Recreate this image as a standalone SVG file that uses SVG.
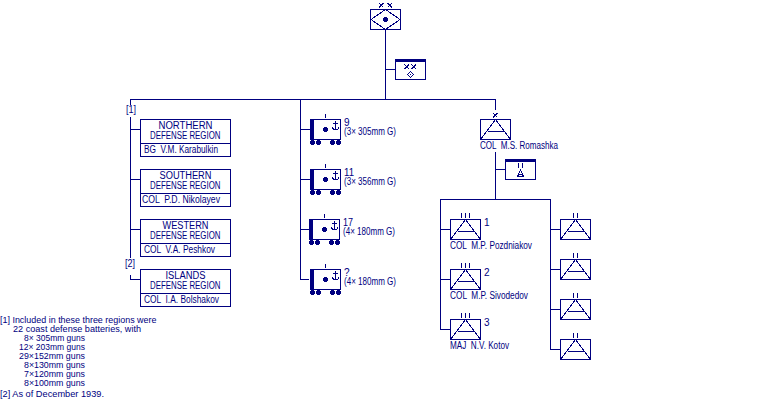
<svg xmlns="http://www.w3.org/2000/svg" xmlns:xlink="http://www.w3.org/1999/xlink" width="770" height="400" viewBox="0 0 770 400">
  <style>
    svg { background: #ffffff; }
    .ln { fill: none; stroke: #000080; stroke-width: 1; shape-rendering: crispEdges; }
    .box { fill: #ffffff; stroke: #000080; stroke-width: 1; shape-rendering: crispEdges; }
    .solid { fill: #000080; stroke: none; shape-rendering: crispEdges; }
    text { font-family: "Liberation Sans", Arial, sans-serif; font-size: 10px; fill: #000080; white-space: pre; }
    #footnotes text { font-size: 9.5px; }
  </style>
  <defs>
    <!-- unit frame: triangle with a crossbar -->
    <g id="artyFrame">
      <rect class="box" x="0.5" y="0.5" width="30" height="20"/>
      <path class="ln" d="M0.5 20.5L15.5 0.5L30.5 20.5M7.5 12.5H23.5"/>
    </g>
    <!-- coastal battery on wheels, with anchor -->
    <g id="battery">
      <rect class="box" x="0.5" y="0.5" width="30" height="20"/>
      <rect class="solid" x="0" y="0" width="4" height="21"/>
      <path class="ln" d="M15.5 -5V-1"/>
      <circle class="solid" cx="15.5" cy="10.5" r="2.5"/>
      <path class="ln" d="M25.5 2V10.5M23 4.5H28M22 7.5C22 9.5 24 10.5 25.5 10.5C27 10.5 29 9.5 29 7.5"/>
      <circle class="solid" cx="2.5" cy="23.5" r="2.5"/>
      <circle class="solid" cx="8.5" cy="23.5" r="2.5"/>
      <circle class="solid" cx="22.5" cy="23.5" r="2.5"/>
      <circle class="solid" cx="28.5" cy="23.5" r="2.5"/>
    </g>
    <!-- defense region card: name area plus commander strip -->
    <g id="regionCard">
      <rect class="box" x="0.5" y="0.5" width="90" height="37"/>
      <path class="ln" d="M0.5 24.5H90.5"/>
    </g>
    <!-- headquarters flag with a dark top band -->
    <g id="hqFlag">
      <rect class="box" x="0.5" y="0.5" width="30" height="20"/>
      <rect class="solid" x="0" y="0" width="31" height="3"/>
    </g>
    <g id="ticks3"><path class="ln" d="M11.5 -6V-1M15.5 -6V-1M19.5 -6V-1"/></g>
    <g id="ticks2"><path class="ln" d="M13.5 -6V-1M17.5 -6V-1"/></g>
  </defs>

  <g id="connectors">
    <path class="ln" d="M385.5 29V99M385.5 69.5H395"/>
    <path class="ln" d="M130.5 99.5H495.5V110"/>
    <path class="ln" d="M130.5 99V105M130.5 117V258M130.5 275V279.5H140M130.5 129.5H140M130.5 179.5H140M130.5 229.5H140"/>
    <path class="ln" d="M300.5 99V279.5H309M300.5 129.5H310M300.5 179.5H310M300.5 229.5H309"/>
    <path class="ln" d="M495.5 152V199M495.5 169.5H505"/>
    <path class="ln" d="M440.5 199.5H550.5V349.5H560M440.5 199V329.5H450"/>
    <path class="ln" d="M440.5 229.5H450M440.5 279.5H450M550.5 229.5H560M550.5 269.5H560M550.5 309.5H560"/>
  </g>

  <g id="top-division">
    <rect class="box" x="370.5" y="9.5" width="30" height="20"/>
    <path class="ln" d="M371 19.5L385.5 9.5L400 19.5L385.5 29.5Z"/>
    <circle class="solid" cx="385.5" cy="19.5" r="2.5"/>
    <path class="ln" d="M379 3L383.5 7.5M383.5 3L379 7.5M387.5 3L392 7.5M392 3L387.5 7.5"/>
  </g>
  <g id="division-hq" transform="translate(395 59)">
    <use xlink:href="#hqFlag" href="#hqFlag"/>
    <path class="ln" d="M9.5 5.5L14 10M14 5.5L9.5 10M16.5 5.5L21 10M21 5.5L16.5 10"/>
    <path class="ln" d="M15.5 12.5L18.5 15.5L15.5 18.5L12.5 15.5Z"/>
    <rect class="solid" x="15" y="15" width="1" height="1"/>
  </g>

  <text x="126" y="113" textLength="10" lengthAdjust="spacingAndGlyphs">[1]</text>
  <text x="125" y="267" textLength="10" lengthAdjust="spacingAndGlyphs">[2]</text>

  <g id="northern-region" transform="translate(140 119)">
    <use xlink:href="#regionCard" href="#regionCard"/>
    <text x="18.5" y="10" textLength="54" lengthAdjust="spacingAndGlyphs">NORTHERN</text>
    <text x="10" y="20" textLength="70.5" lengthAdjust="spacingAndGlyphs">DEFENSE REGION</text>
    <text x="4" y="34" textLength="74" lengthAdjust="spacingAndGlyphs">BG  V.M. Karabulkin</text>
  </g>
  <g id="southern-region" transform="translate(140 169)">
    <use xlink:href="#regionCard" href="#regionCard"/>
    <text x="19.5" y="10" textLength="52" lengthAdjust="spacingAndGlyphs">SOUTHERN</text>
    <text x="10" y="20" textLength="70.5" lengthAdjust="spacingAndGlyphs">DEFENSE REGION</text>
    <text x="2" y="34" textLength="78" lengthAdjust="spacingAndGlyphs">COL  P.D. Nikolayev</text>
  </g>
  <g id="western-region" transform="translate(140 219)">
    <use xlink:href="#regionCard" href="#regionCard"/>
    <text x="22.5" y="10" textLength="46" lengthAdjust="spacingAndGlyphs">WESTERN</text>
    <text x="10" y="20" textLength="70.5" lengthAdjust="spacingAndGlyphs">DEFENSE REGION</text>
    <text x="4" y="34" textLength="71" lengthAdjust="spacingAndGlyphs">COL  V.A. Peshkov</text>
  </g>
  <g id="islands-region" transform="translate(140 269)">
    <use xlink:href="#regionCard" href="#regionCard"/>
    <text x="25.5" y="10" textLength="40" lengthAdjust="spacingAndGlyphs">ISLANDS</text>
    <text x="10" y="20" textLength="70.5" lengthAdjust="spacingAndGlyphs">DEFENSE REGION</text>
    <text x="4" y="34" textLength="75" lengthAdjust="spacingAndGlyphs">COL  I.A. Bolshakov</text>
  </g>

  <g id="battery-9">
    <use xlink:href="#battery" href="#battery" x="310" y="119"/>
    <text x="344" y="126">9</text>
    <text x="344" y="135" textLength="52" lengthAdjust="spacingAndGlyphs">(3× 305mm G)</text>
  </g>
  <g id="battery-11">
    <use xlink:href="#battery" href="#battery" x="310" y="169"/>
    <text x="344" y="176" textLength="10" lengthAdjust="spacingAndGlyphs">11</text>
    <text x="344" y="185" textLength="52" lengthAdjust="spacingAndGlyphs">(3× 356mm G)</text>
  </g>
  <g id="battery-17">
    <use xlink:href="#battery" href="#battery" x="309" y="219"/>
    <text x="343" y="226" textLength="10" lengthAdjust="spacingAndGlyphs">17</text>
    <text x="343" y="235" textLength="52" lengthAdjust="spacingAndGlyphs">(4× 180mm G)</text>
  </g>
  <g id="battery-unknown">
    <use xlink:href="#battery" href="#battery" x="310" y="269"/>
    <text x="344" y="276">?</text>
    <text x="344" y="285" textLength="52" lengthAdjust="spacingAndGlyphs">(4× 180mm G)</text>
  </g>

  <g id="brigade">
    <use xlink:href="#artyFrame" href="#artyFrame" x="480" y="119"/>
    <path class="ln" d="M493 113L497.5 117.5M497.5 113L493 117.5"/>
    <text x="480" y="149" textLength="78" lengthAdjust="spacingAndGlyphs">COL  M.S. Romashka</text>
  </g>
  <g id="brigade-hq" transform="translate(505 159)">
    <use xlink:href="#hqFlag" href="#hqFlag"/>
    <path class="ln" d="M13.5 4V9M17.5 4V9M15.5 11L12.5 17.5H18.5ZM13.5 15H17.5"/>
  </g>

  <g id="regiment-1">
    <use xlink:href="#artyFrame" href="#artyFrame" x="450" y="219"/>
    <use xlink:href="#ticks3" href="#ticks3" x="450" y="219"/>
    <text x="484" y="226">1</text>
    <text x="450" y="249" textLength="82" lengthAdjust="spacingAndGlyphs">COL  M.P. Pozdniakov</text>
  </g>
  <g id="regiment-2">
    <use xlink:href="#artyFrame" href="#artyFrame" x="450" y="269"/>
    <use xlink:href="#ticks3" href="#ticks3" x="450" y="269"/>
    <text x="484" y="276">2</text>
    <text x="450" y="299" textLength="78" lengthAdjust="spacingAndGlyphs">COL  M.P. Sivodedov</text>
  </g>
  <g id="regiment-3">
    <use xlink:href="#artyFrame" href="#artyFrame" x="450" y="319"/>
    <use xlink:href="#ticks3" href="#ticks3" x="450" y="319"/>
    <text x="484" y="326">3</text>
    <text x="450" y="349" textLength="59" lengthAdjust="spacingAndGlyphs">MAJ  N.V. Kotov</text>
  </g>

  <g id="battalion-a">
    <use xlink:href="#artyFrame" href="#artyFrame" x="560" y="219"/>
    <use xlink:href="#ticks2" href="#ticks2" x="560" y="219"/>
  </g>
  <g id="battalion-b">
    <use xlink:href="#artyFrame" href="#artyFrame" x="560" y="259"/>
    <use xlink:href="#ticks2" href="#ticks2" x="560" y="259"/>
  </g>
  <g id="battalion-c">
    <use xlink:href="#artyFrame" href="#artyFrame" x="560" y="299"/>
    <use xlink:href="#ticks2" href="#ticks2" x="560" y="299"/>
  </g>
  <g id="battalion-d">
    <use xlink:href="#artyFrame" href="#artyFrame" x="560" y="339"/>
    <use xlink:href="#ticks2" href="#ticks2" x="560" y="339"/>
  </g>

  <g id="footnotes">
    <text x="0" y="323" textLength="156.5" lengthAdjust="spacingAndGlyphs">[1] Included in these three regions were</text>
    <text x="13" y="332" textLength="128" lengthAdjust="spacingAndGlyphs">22 coast defense batteries, with</text>
    <text x="24" y="341" textLength="61" lengthAdjust="spacingAndGlyphs">8× 305mm guns</text>
    <text x="19" y="350" textLength="66" lengthAdjust="spacingAndGlyphs">12× 203mm guns</text>
    <text x="19" y="359" textLength="66" lengthAdjust="spacingAndGlyphs">29×152mm guns</text>
    <text x="24" y="368" textLength="61" lengthAdjust="spacingAndGlyphs">8×130mm guns</text>
    <text x="24" y="377" textLength="61" lengthAdjust="spacingAndGlyphs">7×120mm guns</text>
    <text x="24" y="386" textLength="61" lengthAdjust="spacingAndGlyphs">8×100mm guns</text>
    <text x="0" y="397" textLength="104" lengthAdjust="spacingAndGlyphs">[2] As of December 1939.</text>
  </g>
</svg>
